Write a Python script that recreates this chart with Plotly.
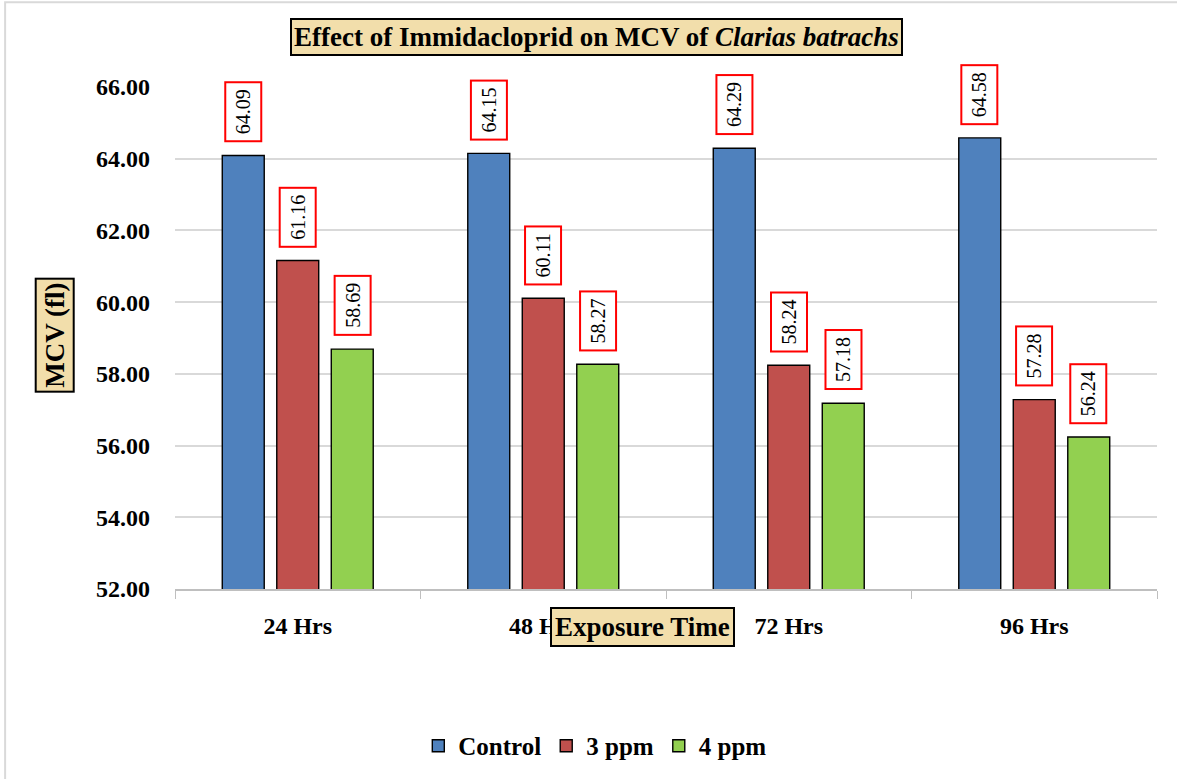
import plotly.graph_objects as go

# Exposure times and MCV values (fl) for each treatment group
categories = ["24 Hrs", "48 Hrs", "72 Hrs", "96 Hrs"]
control = [64.09, 64.15, 64.29, 64.58]
ppm3 = [61.16, 60.11, 58.24, 57.28]
ppm4 = [58.69, 58.27, 57.18, 56.24]
y_ticks = [52, 54, 56, 58, 60, 62, 64, 66]

series = [
    ("Control", control, "#4F81BD"),
    ("3 ppm", ppm3, "#C0504D"),
    ("4 ppm", ppm4, "#92D050"),
]

SERIF = "Liberation Serif, Times New Roman, serif"
PARCHMENT = "#f2deab"

fig = go.Figure()
for i, (name, vals, color) in enumerate(series):
    fig.add_trace(go.Bar(
        name=f"<b>{name}</b>", x=categories, y=vals,
        marker=dict(color=color, line=dict(color="black", width=1.4)),
        offsetgroup=str(i),
    ))

# Rotated value labels in red boxes above each bar
n = len(series)
annotations = []
for i, (name, vals, color) in enumerate(series):
    for j, v in enumerate(vals):
        annotations.append(dict(
            x=j, y=v, xref="x", yref="y",
            xshift=(i - (n - 1) / 2) * 54.5,
            yshift=13,
            text=f"{v:.2f}", textangle=-90,
            showarrow=False, yanchor="bottom",
            font=dict(family=SERIF, size=20, color="black"),
            bgcolor="white", bordercolor="#ff0000", borderwidth=2, borderpad=6,
        ))

# Chart title and axis titles in parchment boxes
annotations.append(dict(
    x=0.4297, y=1.099, xref="paper", yref="paper",
    text="<b>Effect of Immidacloprid on MCV of <i>Clarias batrachs</i></b>",
    showarrow=False, xanchor="center", yanchor="middle",
    font=dict(family=SERIF, size=27, color="black"),
    bgcolor=PARCHMENT, bordercolor="black", borderwidth=2, borderpad=2,
))
annotations.append(dict(
    x=0.4756, y=-0.0755, xref="paper", yref="paper",
    text="<b>Exposure Time</b>",
    showarrow=False, xanchor="center", yanchor="middle",
    font=dict(family=SERIF, size=27, color="black"),
    bgcolor=PARCHMENT, bordercolor="black", borderwidth=2, borderpad=3,
))
annotations.append(dict(
    x=-0.122, y=0.505, xref="paper", yref="paper",
    text="<b>MCV (fl)</b>", textangle=-90,
    showarrow=False, xanchor="center", yanchor="middle",
    font=dict(family=SERIF, size=27, color="black"),
    bgcolor=PARCHMENT, bordercolor="black", borderwidth=2, borderpad=3,
))

fig.update_layout(
    width=1177, height=779,
    margin=dict(l=175, r=20, t=87, b=189),
    paper_bgcolor="white", plot_bgcolor="white",
    barmode="group", bargap=0.334, bargroupgap=0.23,
    font=dict(family=SERIF, color="black"),
    showlegend=True,
    legend=dict(
        orientation="h", x=0.428, y=-0.31, xanchor="center", yanchor="middle",
        font=dict(family=SERIF, size=25, color="black"),
        itemwidth=30, tracegroupgap=0,
    ),
    annotations=annotations,
    shapes=[dict(
        type="rect", xref="paper", yref="paper",
        x0=-0.173, y0=-0.6, x1=1.2, y1=1.169,
        line=dict(color="#d9d9d9", width=2), layer="below",
    )],
)

fig.update_xaxes(
    showgrid=False, showline=True, linecolor="#bfbfbf", linewidth=1.5,
    ticks="outside", tickson="boundaries", ticklen=8, tickcolor="#bfbfbf",
    tickfont=dict(family=SERIF, size=24, color="black"),
    tickprefix="<b>", ticksuffix="</b>",
    ticklabelstandoff=14,
)
fig.update_yaxes(
    range=[52, 66], tickvals=y_ticks,
    ticktext=[f"<b>{t:.2f}</b>" for t in y_ticks],
    showgrid=True, gridcolor="#d9d9d9", gridwidth=1.5,
    showline=False, zeroline=False, ticks="",
    tickfont=dict(family=SERIF, size=24, color="black"),
    ticklabelstandoff=24,
)

fig.write_html("out.html")
